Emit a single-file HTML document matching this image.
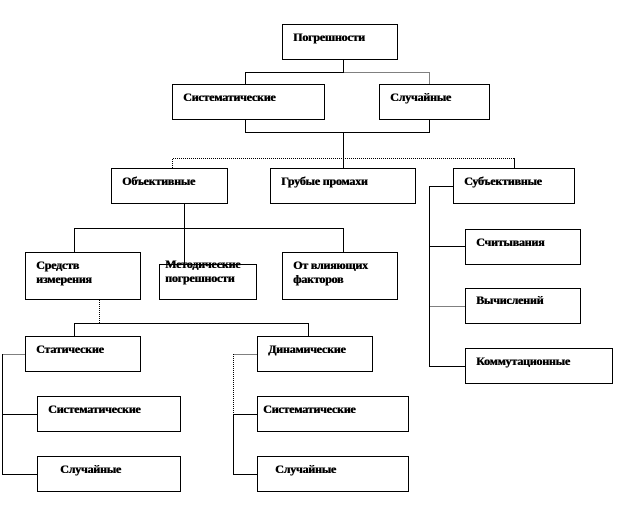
<!DOCTYPE html>
<html><head><meta charset="utf-8"><style>
body{margin:0;width:627px;height:516px;background:#fff;position:relative;overflow:hidden}
.b{position:absolute;border:1px solid #000;box-sizing:border-box;background:#fff;font:bold 12px/14px "Liberation Serif",serif;padding:5px 0 0 10px;letter-spacing:-0.2px;text-shadow:0.5px 0 0 #000;white-space:nowrap}
svg{position:absolute;left:0;top:0}
</style></head><body>
<svg width="627" height="516" stroke="#000" stroke-width="1" fill="none" shape-rendering="crispEdges">
<path d="M343.5 60V72.5M245.5 72.5H343.5M245.5 72V84"/>
<path d="M343.5 72.5H429.5V84" stroke-dasharray="1 1"/>
<path d="M245.5 120V132.5H429.5V120M343.5 132V168"/>
<path d="M172.5 168V158.5H514.5" stroke-dasharray="1 1"/>
<path d="M514.5 158V168"/>
<path d="M184.5 204V264M74.5 252V228.5H343.5V252"/>
<path d="M99.5 300V323" stroke-dasharray="1 1"/>
<path d="M74.5 336V323.5H308.5V336"/>
<path d="M2.5 354.5H25" stroke-dasharray="1 1"/>
<path d="M2.5 354V474.5H37M2.5 414.5H37"/>
<path d="M233.5 354.5H257M233.5 354V414" stroke-dasharray="1 1"/>
<path d="M233.5 414V474.5H257M233.5 414.5H257"/>
<path d="M453 186.5H429.5V366.5H465M429.5 246.5H465"/>
<path d="M429.5 306.5H465" stroke-dasharray="1 1"/>
</svg>
<div class="b" style="left:282px;top:24px;width:116px;height:36px">Погрешности</div>
<div class="b" style="left:172px;top:84px;width:153px;height:36px">Систематические</div>
<div class="b" style="left:379px;top:84px;width:111px;height:36px">Случайные</div>
<div class="b" style="left:111px;top:168px;width:117px;height:36px">Объективные</div>
<div class="b" style="left:270px;top:168px;width:146px;height:36px">Грубые промахи</div>
<div class="b" style="left:453px;top:168px;width:122px;height:36px">Субъективные</div>
<div class="b" style="left:25px;top:252px;width:116px;height:48px">Средств<br>измерения</div>
<div class="b" style="left:159px;top:264px;width:98px;height:36px;padding:0"></div>
<div class="b" style="left:165px;top:257px;border:none;background:transparent;padding:0">Методические<br>погрешности</div>
<div class="b" style="left:282px;top:252px;width:116px;height:48px">От влияющих<br>факторов</div>
<div class="b" style="left:25px;top:336px;width:116px;height:36px">Статические</div>
<div class="b" style="left:257px;top:336px;width:116px;height:36px">Динамические</div>
<div class="b" style="left:37px;top:396px;width:144px;height:36px">Систематические</div>
<div class="b" style="left:37px;top:456px;width:144px;height:36px;padding-left:22px">Случайные</div>
<div class="b" style="left:257px;top:396px;width:152px;height:36px;padding-left:5px">Систематические</div>
<div class="b" style="left:257px;top:456px;width:152px;height:36px;padding-left:17px">Случайные</div>
<div class="b" style="left:465px;top:229px;width:116px;height:36px">Считывания</div>
<div class="b" style="left:465px;top:288px;width:116px;height:36px;padding-top:4px">Вычислений</div>
<div class="b" style="left:465px;top:348px;width:148px;height:36px;padding-top:5px">Коммутационные</div>
</body></html>
